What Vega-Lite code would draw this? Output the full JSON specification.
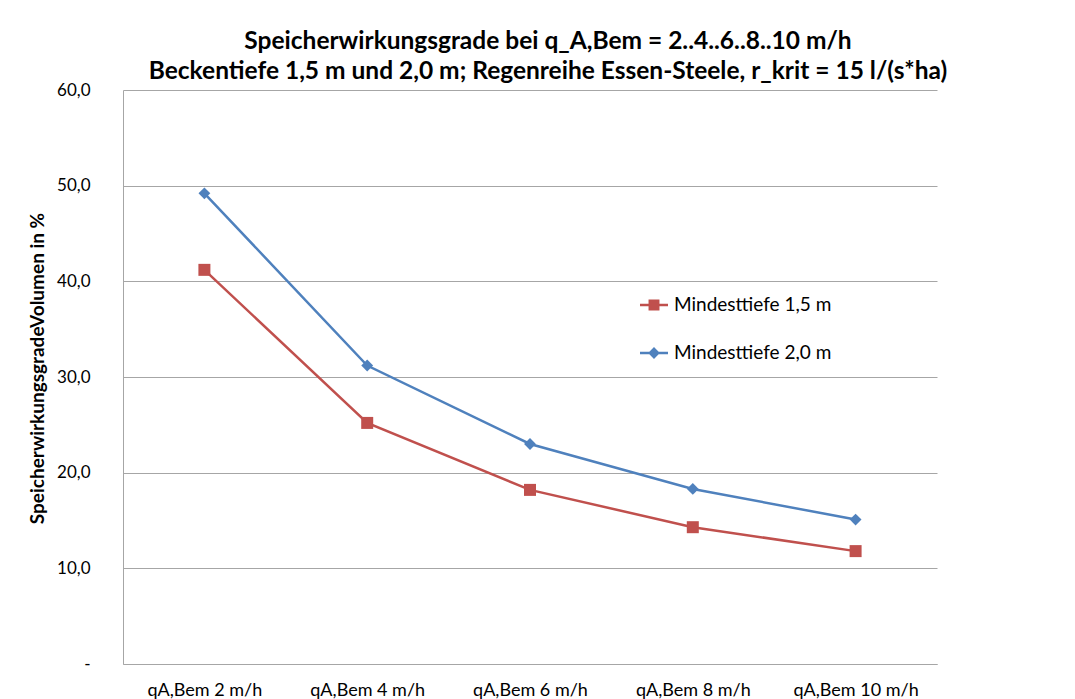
{
  "$schema": "https://vega.github.io/schema/vega-lite/v6.json",
  "width": 814,
  "height": 574,
  "autosize": "none",
  "padding": {"left": 123, "top": 90, "right": 138, "bottom": 35},
  "background": "white",
  "title": {
    "text": ["Speicherwirkungsgrade bei q_A,Bem = 2..4..6..8..10 m/h", "Beckentiefe 1,5 m und 2,0 m; Regenreihe Essen-Steele, r_krit = 15 l/(s*ha)"],
    "font": "Lato",
    "fontSize": 24.5,
    "fontWeight": "bold",
    "color": "#000000",
    "lineHeight": 30,
    "anchor": "middle",
    "dx": 18,
    "offset": -3
  },
  "data": {
    "values": [
      {"cat": "qA,Bem 2 m/h", "series": "Mindesttiefe 1,5 m", "value": 41.2},
      {"cat": "qA,Bem 4 m/h", "series": "Mindesttiefe 1,5 m", "value": 25.2},
      {"cat": "qA,Bem 6 m/h", "series": "Mindesttiefe 1,5 m", "value": 18.2},
      {"cat": "qA,Bem 8 m/h", "series": "Mindesttiefe 1,5 m", "value": 14.3},
      {"cat": "qA,Bem 10 m/h", "series": "Mindesttiefe 1,5 m", "value": 11.8},
      {"cat": "qA,Bem 2 m/h", "series": "Mindesttiefe 2,0 m", "value": 49.2},
      {"cat": "qA,Bem 4 m/h", "series": "Mindesttiefe 2,0 m", "value": 31.2},
      {"cat": "qA,Bem 6 m/h", "series": "Mindesttiefe 2,0 m", "value": 23.0},
      {"cat": "qA,Bem 8 m/h", "series": "Mindesttiefe 2,0 m", "value": 18.3},
      {"cat": "qA,Bem 10 m/h", "series": "Mindesttiefe 2,0 m", "value": 15.1}
    ]
  },
  "encoding": {
    "x": {
      "field": "cat",
      "type": "nominal",
      "sort": null,
      "scale": {"type": "point", "padding": 0.5},
      "axis": {
        "title": null,
        "labelAngle": 0,
        "labelFont": "Lato",
        "labelFontSize": 18,
        "labelColor": "#000000",
        "labelPadding": 17,
        "ticks": false,
        "grid": false,
        "domainColor": "#a6a6a6",
        "domainWidth": 1
      }
    },
    "y": {
      "field": "value",
      "type": "quantitative",
      "scale": {"domain": [0, 60], "nice": false},
      "axis": {
        "title": "SpeicherwirkungsgradeVolumen  in %",
        "titleFont": "Lato",
        "titleFontSize": 19,
        "titleFontWeight": "bold",
        "titleColor": "#000000",
        "titlePadding": 9,
        "titleY": 278,
        "values": [0, 10, 20, 30, 40, 50, 60],
        "labelExpr": "datum.value == 0 ? '-' : replace(format(datum.value, '.1f'), '.', ',')",
        "labelFont": "Lato",
        "labelFontSize": 17,
        "labelColor": "#000000",
        "labelPadding": 33,
        "ticks": false,
        "grid": true,
        "gridColor": "#a6a6a6",
        "gridWidth": 1,
        "domainColor": "#a6a6a6",
        "domainWidth": 1
      }
    },
    "color": {
      "field": "series",
      "type": "nominal",
      "scale": {"domain": ["Mindesttiefe 1,5 m", "Mindesttiefe 2,0 m"], "range": ["#C0504D", "#4F81BD"]},
      "legend": {
        "title": null,
        "orient": "none",
        "legendX": 517,
        "legendY": 201,
        "labelFont": "Lato",
        "labelFontSize": 19,
        "labelColor": "#000000",
        "labelOffset": 6,
        "rowPadding": 24,
        "symbolSize": 784,
        "symbolStrokeWidth": 0,
        "encode": {
          "symbols": {
            "enter": {
              "shape": {"signal": "datum.value == 'Mindesttiefe 1,5 m' ? 'M-1,-0.09H1V0.09H-1Z M-0.39,-0.39H0.39V0.39H-0.39Z' : 'M-1,-0.09H1V0.09H-1Z M0,-0.42L0.42,0L0,0.42L-0.42,0Z'"}
            },
            "update": {
              "shape": {"signal": "datum.value == 'Mindesttiefe 1,5 m' ? 'M-1,-0.09H1V0.09H-1Z M-0.39,-0.39H0.39V0.39H-0.39Z' : 'M-1,-0.09H1V0.09H-1Z M0,-0.42L0.42,0L0,0.42L-0.42,0Z'"},
              "size": {"value": 784},
              "strokeWidth": {"value": 0}
            }
          }
        }
      }
    }
  },
  "layer": [
    {
      "mark": {"type": "line", "strokeWidth": 2.5}
    },
    {
      "transform": [{"filter": "datum.series == 'Mindesttiefe 1,5 m'"}],
      "mark": {"type": "point", "filled": true, "opacity": 1, "size": 144, "shape": "square"}
    },
    {
      "transform": [{"filter": "datum.series == 'Mindesttiefe 2,0 m'"}],
      "mark": {"type": "point", "filled": true, "opacity": 1, "size": 140, "shape": "diamond"}
    }
  ],
  "config": {
    "view": {"stroke": null}
  }
}
